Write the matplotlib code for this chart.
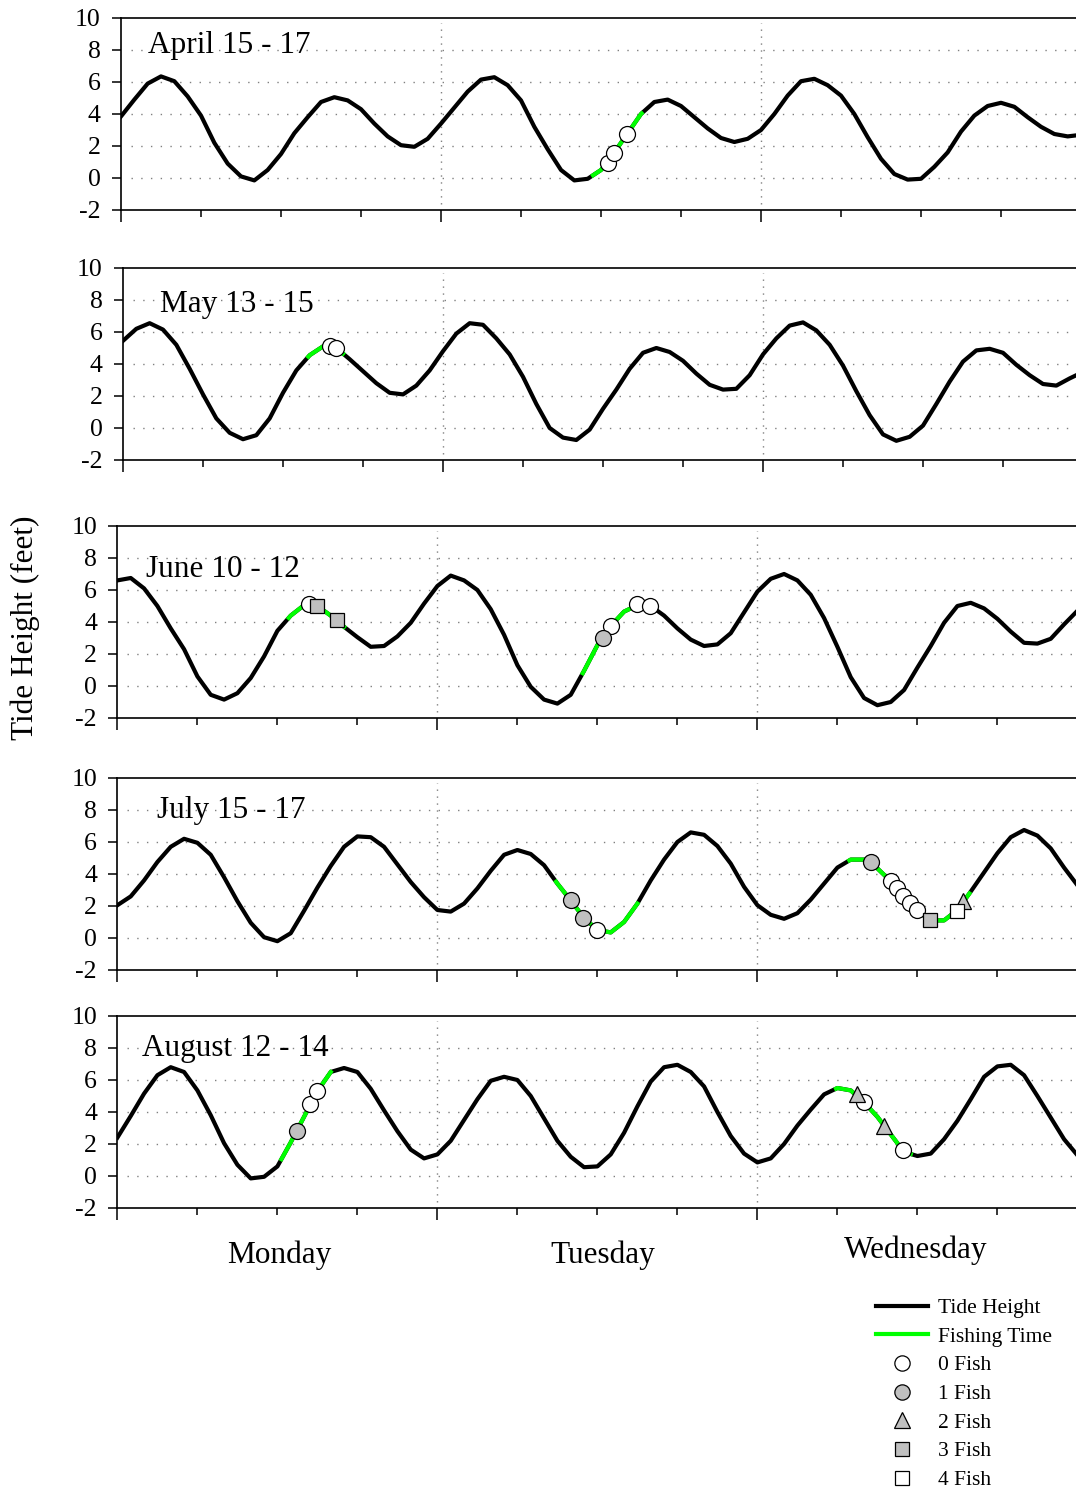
"""
Tide height over three days for five fishing trips, with fishing windows
highlighted in green and catches marked by fish count.
"""
import matplotlib
matplotlib.use("Agg")
import matplotlib.pyplot as plt
from matplotlib.lines import Line2D
import numpy as np

plt.rcParams['font.family'] = ['Liberation Serif', 'DejaVu Serif']
plt.rcParams['axes.unicode_minus'] = False

# hourly tide readings, hour 0 = Monday midnight
HOURS = np.arange(73)

april_tide = [3.85, 4.9, 5.9, 6.35, 6.05, 5.1, 3.9, 2.2, 0.9, 0.1,
              -0.15, 0.5, 1.5, 2.8, 3.8, 4.75, 5.05, 4.85, 4.3, 3.4,
              2.6, 2.05, 1.95, 2.45, 3.4, 4.4, 5.4, 6.15, 6.3, 5.8,
              4.85, 3.2, 1.8, 0.5, -0.15, -0.05, 0.5, 1.6, 2.8, 4.0,
              4.75, 4.9, 4.5, 3.8, 3.1, 2.5, 2.25, 2.45, 3.0, 4.0,
              5.15, 6.05, 6.2, 5.8, 5.15, 4.0, 2.55, 1.2, 0.25, -0.1,
              -0.05, 0.7, 1.6, 2.9, 3.9, 4.5, 4.7, 4.45, 3.8, 3.2,
              2.75, 2.6, 2.7]
may_tide = [5.45, 6.2, 6.55, 6.15, 5.2, 3.7, 2.1, 0.6, -0.3, -0.7,
            -0.45, 0.6, 2.2, 3.6, 4.55, 5.1, 5.0, 4.3, 3.55, 2.8,
            2.2, 2.1, 2.65, 3.6, 4.8, 5.9, 6.55, 6.45, 5.6, 4.6,
            3.2, 1.5, 0.0, -0.6, -0.75, -0.1, 1.2, 2.4, 3.7, 4.7,
            5.0, 4.75, 4.2, 3.4, 2.7, 2.4, 2.45, 3.3, 4.6, 5.6,
            6.4, 6.6, 6.1, 5.2, 3.9, 2.3, 0.8, -0.4, -0.8, -0.55,
            0.15, 1.5, 2.9, 4.15, 4.85, 4.95, 4.7, 3.95, 3.3, 2.75,
            2.65, 3.1, 3.5]
june_tide = [6.6, 6.75, 6.1, 5.0, 3.6, 2.3, 0.6, -0.55, -0.85, -0.45,
             0.5, 1.85, 3.45, 4.4, 5.05, 5.0, 4.4, 3.7, 3.05, 2.45,
             2.5, 3.1, 3.95, 5.15, 6.25, 6.9, 6.6, 6.0, 4.8, 3.2,
             1.3, -0.05, -0.85, -1.1, -0.55, 0.95, 2.55, 3.75, 4.65, 5.05,
             5.0, 4.4, 3.6, 2.9, 2.5, 2.6, 3.3, 4.6, 5.9, 6.7,
             7.0, 6.6, 5.7, 4.25, 2.45, 0.55, -0.75, -1.2, -1.0, -0.25,
             1.15, 2.5, 3.95, 5.0, 5.2, 4.85, 4.2, 3.4, 2.7, 2.65,
             2.95, 3.85, 4.7]
july_tide = [2.05, 2.6, 3.6, 4.75, 5.7, 6.2, 5.95, 5.2, 3.8, 2.3,
             0.95, 0.05, -0.2, 0.3, 1.7, 3.15, 4.5, 5.7, 6.35, 6.3,
             5.7, 4.6, 3.5, 2.55, 1.75, 1.65, 2.15, 3.1, 4.2, 5.2,
             5.5, 5.25, 4.55, 3.4, 2.35, 1.25, 0.5, 0.35, 1.0, 2.15,
             3.6, 4.9, 6.0, 6.6, 6.45, 5.75, 4.65, 3.2, 2.05, 1.45,
             1.2, 1.55, 2.4, 3.4, 4.4, 4.9, 4.9, 4.35, 3.55, 2.65,
             1.7, 1.1, 1.1, 1.75, 2.9, 4.1, 5.3, 6.3, 6.75, 6.4,
             5.6, 4.4, 3.3]
august_tide = [2.4, 3.75, 5.15, 6.3, 6.8, 6.5, 5.35, 3.8, 2.05, 0.7,
               -0.15, -0.05, 0.6, 2.1, 3.7, 5.3, 6.5, 6.75, 6.5, 5.45,
               4.1, 2.8, 1.65, 1.1, 1.35, 2.2, 3.5, 4.8, 5.95, 6.2,
               6.0, 5.0, 3.6, 2.2, 1.2, 0.55, 0.6, 1.35, 2.7, 4.35,
               5.9, 6.8, 6.95, 6.5, 5.6, 4.0, 2.5, 1.4, 0.85, 1.1,
               2.0, 3.15, 4.15, 5.1, 5.5, 5.35, 4.6, 3.7, 2.6, 1.5,
               1.25, 1.4, 2.3, 3.45, 4.8, 6.2, 6.85, 6.95, 6.3, 5.0,
               3.65, 2.3, 1.3]

# fishing windows (start hour, end hour)
april_fishing = [(35.4, 39.05)]
may_fishing = [(13.9, 16.5)]
june_fishing = [(12.85, 17.0), (34.9, 40.3)]
july_fishing = [(32.9, 39.0), (54.9, 63.9)]
august_fishing = [(12.3, 16.0), (53.9, 59.5)]

# catches: hour, tide height, fish caught
april_catch_hour = [36.5, 36.95, 37.97]
april_catch_height = [0.96, 1.56, 2.77]
april_catch_fish = [0, 0, 0]

may_catch_hour = [15.5, 16.0]
may_catch_height = [5.15, 5.0]
may_catch_fish = [0, 0]

june_catch_hour = [14.4, 15.0, 16.5, 36.45, 37.0, 38.95, 39.95]
june_catch_height = [5.15, 5.0, 4.1, 3.0, 3.75, 5.1, 5.0]
june_catch_fish = [0, 3, 3, 1, 0, 0, 0]

july_catch_hour = [34.0, 34.95, 36.0, 56.5, 58.0, 58.45, 58.95, 59.45, 59.95,
                   60.95, 62.95, 63.45]
july_catch_height = [2.35, 1.25, 0.5, 4.75, 3.55, 3.1, 2.65, 2.2, 1.75,
                     1.1, 1.7, 2.3]
july_catch_fish = [1, 1, 0, 1, 0, 0, 0, 0, 0, 3, 4, 2]

august_catch_hour = [13.45, 14.45, 14.97, 55.5, 56.0, 57.5, 58.95]
august_catch_height = [2.8, 4.5, 5.3, 5.1, 4.6, 3.1, 1.6]
august_catch_fish = [1, 0, 0, 2, 0, 2, 0]

panel_labels = ["April 15 - 17", "May 13 - 15", "June 10 - 12",
                "July 15 - 17", "August 12 - 14"]
day_names = ["Monday", "Tuesday", "Wednesday"]
legend_labels = ["Tide Height", "Fishing Time", "0 Fish", "1 Fish",
                 "2 Fish", "3 Fish", "4 Fish"]

W, H = 1076, 1488
GREEN = '#00ff00'
SILVER = '#c0c0c0'
# marker look for 0..4 fish
FISH_STYLE = [('o', 'white', 11.5), ('o', SILVER, 11.5), ('^', SILVER, 12),
              ('s', SILVER, 10.5), ('s', 'white', 10.5)]

panels = [
    (april_tide, april_fishing, april_catch_hour, april_catch_height, april_catch_fish),
    (may_tide, may_fishing, may_catch_hour, may_catch_height, may_catch_fish),
    (june_tide, june_fishing, june_catch_hour, june_catch_height, june_catch_fish),
    (july_tide, july_fishing, july_catch_hour, july_catch_height, july_catch_fish),
    (august_tide, august_fishing, august_catch_hour, august_catch_height, august_catch_fish),
]
# layout in pixels: axes left edge, axes top edge, label x (h), label baseline y
layout = [(121, 18, 2.0, 7.8), (123, 268, 2.8, 7.27), (117.4, 526, 2.15, 6.8),
          (117.4, 778, 2.95, 7.5), (117.4, 1016, 1.85, 7.5)]


def main():
    fig = plt.figure(figsize=(W / 100, H / 100), dpi=100)

    for (tide, fishing, c_hour, c_height, c_fish), (left, top, lx, ly), label in zip(
            panels, layout, panel_labels):
        ax = fig.add_axes([left / W, 1 - (top + 192) / H, 960 / W, 192 / H])
        ax.set_xlim(0, 72)
        ax.set_ylim(-2, 10)

        for y in (0, 2, 4, 6, 8):
            ax.axhline(y, xmin=0.01, color='#808080', lw=1.0, ls=(0, (1, 6)), zorder=1)
        ax.vlines([24, 48], -1.6, 9.7, color='#808080', lw=1.0,
                  linestyles=[(0, (1, 4))], zorder=1)

        tide = np.array(tide)
        ax.plot(HOURS, tide, color='black', lw=3, zorder=2)
        for start, end in fishing:
            inside = HOURS[(HOURS > start) & (HOURS < end)]
            xs = np.concatenate([[start], inside, [end]])
            ax.plot(xs, np.interp(xs, HOURS, tide), color=GREEN, lw=3, zorder=3)

        c_hour, c_height, c_fish = map(np.array, (c_hour, c_height, c_fish))
        for n, (marker, face, size) in enumerate(FISH_STYLE):
            sel = c_fish == n
            if sel.any():
                ax.plot(c_hour[sel], c_height[sel], ls='none', marker=marker,
                        mfc=face, mec='black', ms=size, mew=0.9, zorder=4 + n)

        ax.text(lx, ly, label, fontsize=22.5, ha='left', va='baseline', zorder=10)

        ax.spines['right'].set_visible(False)
        for side in ('top', 'left', 'bottom'):
            ax.spines[side].set_linewidth(1.2)
        ax.set_xticks([0, 24, 48, 72])
        ax.set_xticks(np.arange(0, 73, 6), minor=True)
        ax.tick_params(axis='x', which='major', length=8.5, width=1.1,
                       direction='out', labelbottom=False)
        ax.tick_params(axis='x', which='minor', length=5, width=1.1, direction='out')
        ax.set_yticks(range(-2, 11, 2))
        ax.tick_params(axis='y', length=6.7, width=1.1, direction='out',
                       pad=8, labelsize=18.5)

    fig.text(25 / W, 1 - 628 / H, "Tide Height (feet)", rotation=90,
             ha='center', va='center', fontsize=22.5)

    for name, x, base in zip(day_names, [279.5, 603, 915.5], [1263, 1263, 1258]):
        fig.text(x / W, 1 - base / H, name, ha='center', va='baseline', fontsize=22.5)

    handles = [Line2D([], [], color='black', lw=3),
               Line2D([], [], color=GREEN, lw=3)]
    for marker, face, size in FISH_STYLE:
        handles.append(Line2D([], [], ls='none', marker=marker, mfc=face,
                              mec='black', ms=size - 0.5, mew=0.9))
    fig.legend(handles, legend_labels, loc='upper left',
               bbox_to_anchor=(876 / W, 1 - 1298 / H), frameon=False,
               fontsize=15.5, handlelength=2.4, handletextpad=0.5,
               labelspacing=0.4, borderpad=0, borderaxespad=0)

    fig.savefig("out.png", dpi=100)


if __name__ == "__main__":
    main()
